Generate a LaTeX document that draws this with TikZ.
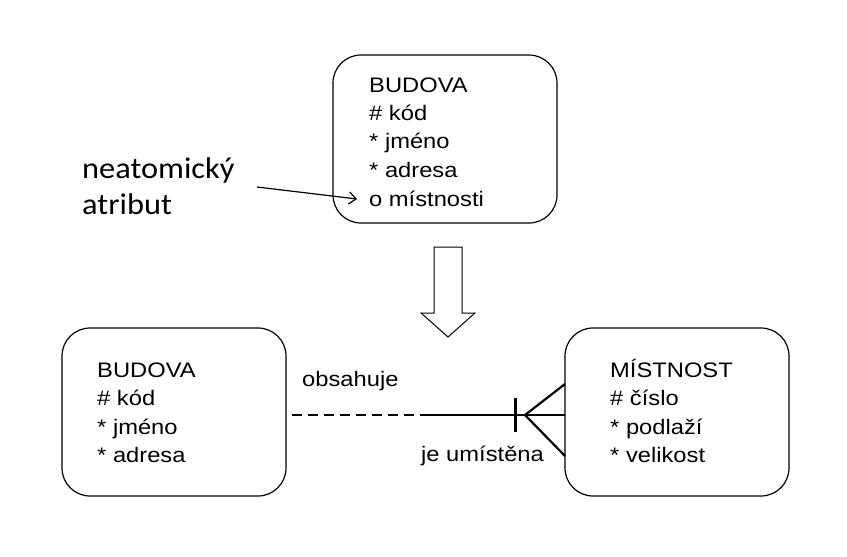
\documentclass[tikz,border=0pt]{standalone}
\usepackage{fontspec}
\setmainfont{Liberation Sans}
\newfontfamily\af[FakeStretch=1.13]{Liberation Sans}
\newfontfamily\cf[FakeStretch=1.08]{Carlito}
\usetikzlibrary{arrows.meta}
\begin{document}
\begin{tikzpicture}[x=1pt,y=-1pt,
  entbox/.style={draw=black,line width=1.2pt,rounded corners=28pt},
  attr/.style={anchor=base west,font=\af\fontsize{21}{24}\selectfont,inner sep=0pt},
  big/.style={anchor=base west,font=\cf\fontsize{30}{34}\selectfont,inner sep=0pt},
  rel/.style={line width=2.2pt}]
\useasboundingbox (0,0) rectangle (847,557);
\draw[entbox] (333,55) rectangle (557,223);
\draw[entbox] (62,328) rectangle (286,496);
\draw[entbox] (565,328) rectangle (789,496);
% top box text
\node[attr] (t1) at (369,92) {BUDOVA};
\node[attr] (t2) at (369,120) {\# kód};
\node[attr] (t3) at (369,148) {* jméno};
\node[attr] (t4) at (369,177) {* adresa};
\node[attr] (t5) at (369,206) {o místnosti};
% left box
\node[attr] (l1) at (97,377) {BUDOVA};
\node[attr] (l2) at (97,405) {\# kód};
\node[attr] (l3) at (97,434) {* jméno};
\node[attr] (l4) at (97,462) {* adresa};
% right box
\node[attr] (r1) at (610,377) {MÍSTNOST};
\node[attr] (r2) at (610,405) {\# číslo};
\node[attr] (r3) at (610,434) {* podlaží};
\node[attr] (r4) at (610,462) {* velikost};
% note
\node[big] (n1) at (82,178) {neatomický};
\node[big] (n2) at (82,214) {atribut};
\coordinate (as) at (257,187);
\coordinate (ae) at (357,199);
\draw[line width=1.2pt,-{Straight Barb[length=7pt,width=12pt,line width=1.2pt]}] (as) -- (ae);
% block arrow
\draw[line width=1pt,fill=white] (434,247) -- (462,247) -- (462,313) -- (475,313) -- (448,337) -- (421,313) -- (434,313) -- cycle;
% relationship
\coordinate (a) at (292,415);
\coordinate (m) at (427,415);
\coordinate (b) at (565,415);
\coordinate (ap) at (525,415);
\draw[rel,dash pattern=on 10pt off 6pt] (a) -- (m);
\draw[rel] (m) -- (b);
\draw[rel] (515.5,398) -- (515.5,432);
\draw[rel] (565,384) -- (ap) -- (565,456);
\node[attr] (o) at (302,386) {obsahuje};
\node[attr] (u) at (421,461) {je umístěna};
\end{tikzpicture}
\end{document}
